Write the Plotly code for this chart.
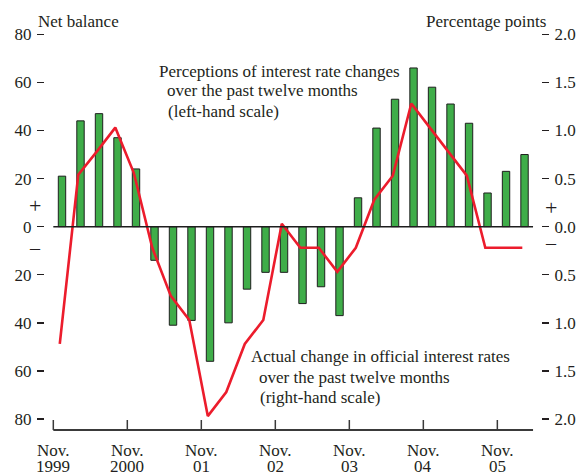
import plotly.graph_objects as go

# ---- data ----
survey_quarters = ["Nov 1999", "Feb 2000", "May 2000", "Aug 2000", "Nov 2000", "Feb 2001",
                   "May 2001", "Aug 2001", "Nov 2001", "Feb 2002", "May 2002", "Aug 2002",
                   "Nov 2002", "Feb 2003", "May 2003", "Aug 2003", "Nov 2003", "Feb 2004",
                   "May 2004", "Aug 2004", "Nov 2004", "Feb 2005", "May 2005", "Aug 2005",
                   "Nov 2005", "Feb 2006"]
perceptions = [21, 44, 47, 37, 24, -14, -41, -39, -56, -40, -26, -19, -19, -32, -25, -37,
               12, 41, 53, 66, 58, 51, 43, 14, 23, 30]
actual_change = [-1.22, 0.54, 0.78, 1.03, 0.56, -0.22, -0.72, -0.97, -1.97, -1.72, -1.22, -0.97,
                 0.03, -0.22, -0.22, -0.47, -0.22, 0.28, 0.53, 1.28, 1.03, 0.78, 0.53, -0.22,
                 -0.22, -0.22]
tick_months = ["Nov.", "Nov.", "Nov.", "Nov.", "Nov.", "Nov.", "Nov."]
tick_years = ["1999", "2000", "01", "02", "03", "04", "05"]
left_ticks = [80, 60, 40, 20, 0, -20, -40, -60, -80]
right_ticks = [2.0, 1.5, 1.0, 0.5, 0.0, -0.5, -1.0, -1.5, -2.0]

# ---- layout constants (pixels, in the 581x475 window frame) ----
W, H = 581, 475
L, R, T, B = 45, 541, 30, 430
FONT = "Liberation Serif"
TXT = "#231f20"

def px_x(p):
    return (p - L) / (R - L)

def px_y(p):
    return (B - p) / (B - T)

idx = list(range(len(survey_quarters)))
line_x = [i - 0.12 for i in idx]
tick_offset = -0.47
tick_x = [tick_offset + 4 * j for j in range(len(tick_years))]
axis_end = 25.46

fig = go.Figure()
fig.add_trace(go.Bar(x=idx, y=perceptions, width=0.4,
                     marker=dict(color="#3fad49", line=dict(color="#1e1e1e", width=1)),
                     yaxis="y", showlegend=False, hoverinfo="skip"))
fig.add_trace(go.Scatter(x=line_x, y=actual_change, mode="lines",
                         line=dict(color="#ec1c2c", width=2.6),
                         yaxis="y2", showlegend=False, hoverinfo="skip"))

y_top, y_bot = 81.79, -84.575
fig.update_layout(
    width=W, height=H,
    margin=dict(l=L, r=W - R, t=T, b=H - B, pad=0, autoexpand=False),
    paper_bgcolor="white", plot_bgcolor="white",
    font=dict(family=FONT, size=17, color=TXT),
    bargap=0,
    xaxis=dict(range=[-0.919, 25.89], showgrid=False, zeroline=False, showline=False,
               showticklabels=False, ticks="", automargin=False),
    yaxis=dict(range=[y_bot, y_top], tickvals=left_ticks,
               ticktext=[str(abs(v)) for v in left_ticks],
               ticks="outside", ticklen=7, tickwidth=1.5, tickcolor=TXT,
               showgrid=False, zeroline=False, showline=False, automargin=False,
               ticklabelstandoff=2, tickfont=dict(family=FONT, size=17, color=TXT)),
    yaxis2=dict(range=[y_bot / 40, y_top / 40], overlaying="y", side="right",
                tickvals=right_ticks,
                ticktext=["%.1f" % abs(v) for v in right_ticks],
                ticks="outside", ticklen=7, tickwidth=1.5, tickcolor=TXT,
                showgrid=False, zeroline=False, showline=False, automargin=False,
                ticklabelstandoff=2, tickfont=dict(family=FONT, size=17, color=TXT)),
)

shapes = []
# bottom axis line and upward ticks
shapes.append(dict(type="line", xref="x", yref="paper", x0=tick_offset, x1=axis_end,
                   y0=0, y1=0, line=dict(color="#3a3a3a", width=1.8)))
for tx in tick_x:
    shapes.append(dict(type="line", xref="x", yref="paper", x0=tx, x1=tx,
                       y0=0, y1=px_y(420), line=dict(color="#3a3a3a", width=1.5)))
# zero line
shapes.append(dict(type="line", xref="x", yref="y", x0=tick_offset, x1=axis_end,
                   y0=0, y1=0, line=dict(color="#1e1e1e", width=1.5)))
fig.update_layout(shapes=shapes)

ann = []
def text(s, x, y, xanchor="left", size=17, xref="paper", pad=1, height=None):
    a = dict(text=s, x=x, y=y, xref=xref, yref="paper", xanchor=xanchor,
             yanchor="middle", showarrow=False, borderpad=pad,
             font=dict(family=FONT, size=size, color=TXT))
    if height is not None:
        a["height"] = height
        a["valign"] = "middle"
    ann.append(a)

text("Net balance", px_x(36), px_y(22))
text("Percentage points", px_x(548), px_y(22), xanchor="right")
text("Perceptions of interest rate changes", px_x(157), px_y(71))
text("over the past twelve months", px_x(165), px_y(90))
text("(left-hand scale)", px_x(166), px_y(111))
text("Actual change in official interest rates", px_x(249), px_y(356))
text("over the past twelve months", px_x(257), px_y(377))
text("(right-hand scale)", px_x(258), px_y(397))
# +/- markers
text("+", px_x(35), px_y(206), xanchor="center", size=22)
text("\u2013", px_x(35), px_y(248), xanchor="center", size=20)
text("+", px_x(551), px_y(208), xanchor="center", size=22)
text("\u2013", px_x(551), px_y(243), xanchor="center", size=20)
# x tick labels
for tx, m, yr in zip(tick_x, tick_months, tick_years):
    text(m, tx, px_y(450), xanchor="center", xref="x", pad=0, height=15)
    text(yr, tx, px_y(466), xanchor="center", xref="x", pad=0, height=15)

fig.update_layout(annotations=ann)
fig.write_html(
    "out.html",
    config={"displayModeBar": False, "staticPlot": True},
    post_script="document.body.style.margin='0';document.body.style.overflow='hidden';",
)
